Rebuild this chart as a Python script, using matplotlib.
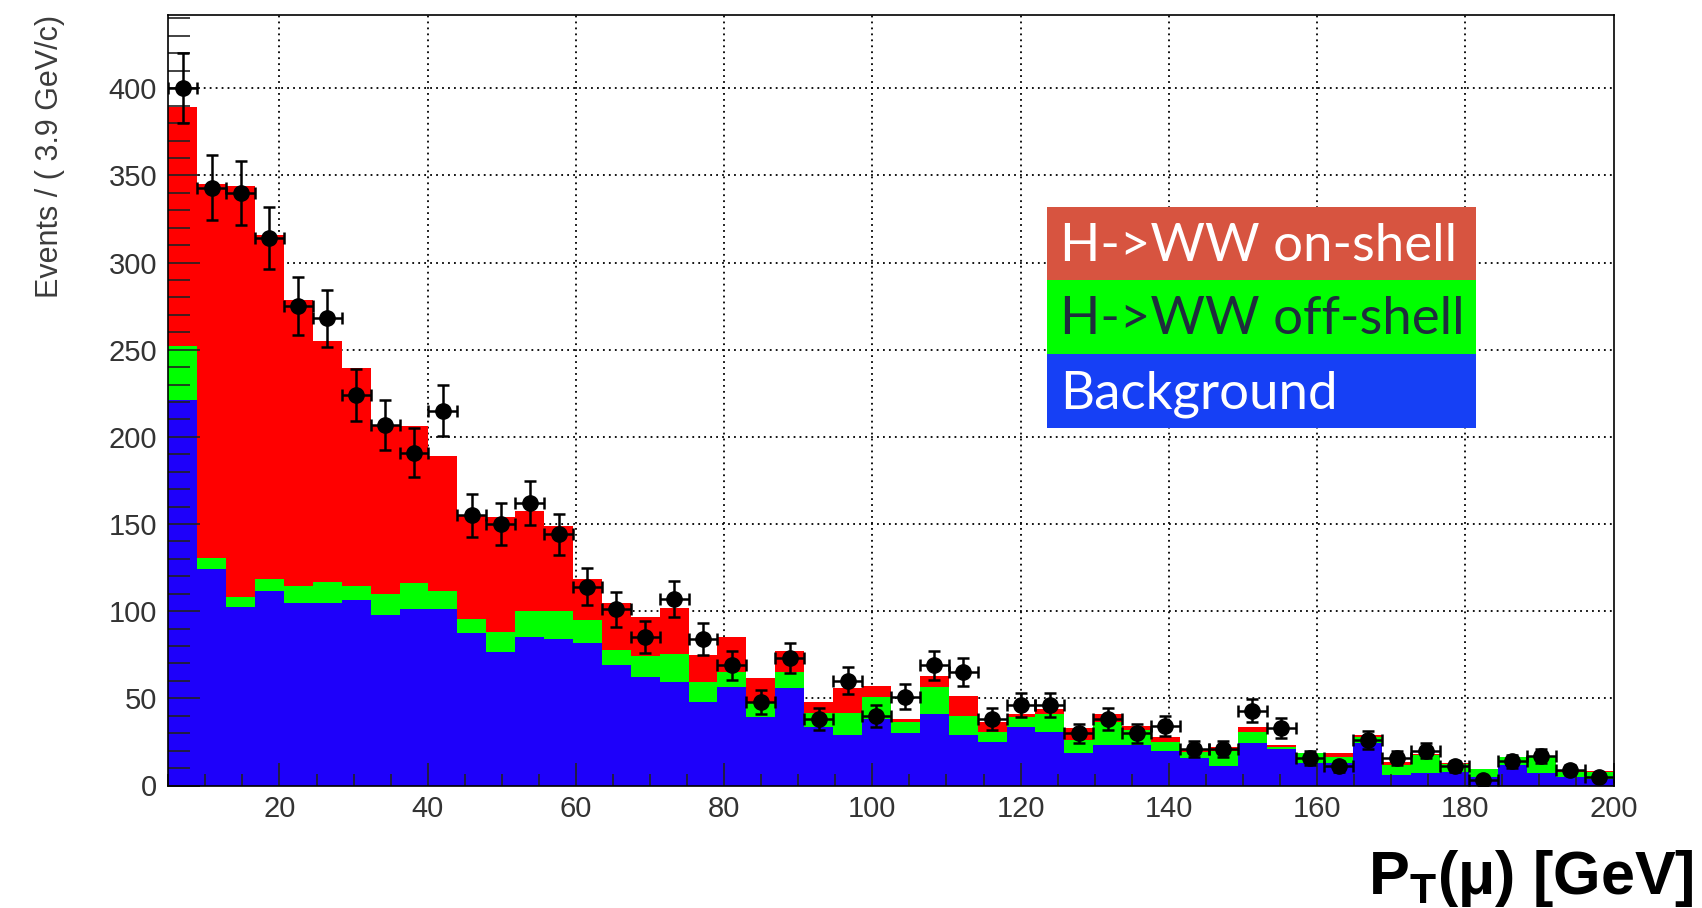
import numpy as np
import matplotlib
matplotlib.use('Agg')
import matplotlib.pyplot as plt
from matplotlib.patches import Rectangle
from matplotlib.ticker import MultipleLocator

plt.rcParams['font.family'] = ['Liberation Sans', 'DejaVu Sans']
plt.rcParams['mathtext.fontset'] = 'custom'
plt.rcParams['mathtext.rm'] = 'Liberation Sans:bold'
plt.rcParams['mathtext.bf'] = 'Liberation Sans:bold'
plt.rcParams['mathtext.it'] = 'Liberation Sans:bold'

# pT(mu) binning: 50 bins of 3.9 GeV
x_lo, x_hi, n_bins = 5.0, 200.0, 50

# stacked MC components, events per bin
bkg = np.array([221, 124, 102.6, 111.8, 104.5, 104.5, 106.4, 97.8, 101.3, 101.3,
                87.3, 76.8, 85.4, 84, 82, 69, 62.4, 59.6, 48.1, 56.7,
                39.5, 55.7, 33.8, 29, 38, 29.9, 41, 29, 25.1, 33.8,
                30.9, 18.5, 23.2, 23.2, 19.8, 15.6, 11.4, 24.6, 20.7, 12.7,
                12.7, 24.2, 6, 7, 7.9, 5, 11.8, 7, 5, 3.5])
offshell = np.array([31, 6.5, 5.7, 6.7, 10.1, 12.1, 8.1, 11.9, 14.7, 10.5,
                     8, 11.1, 14.9, 16.3, 13, 8.7, 11.9, 15.7, 11.5, 8.6,
                     7.6, 9.6, 7.6, 12.4, 12.6, 6.3, 15.7, 10.9, 5.8, 5.3,
                     10.1, 7.6, 13.4, 8.8, 5.3, 3.8, 8.6, 6.3, 1.3, 5.8,
                     3.8, 3.6, 5.8, 10.5, 4.4, 4.3, 4.4, 9.2, 2.5, 4.4])
onshell = np.array([137, 214.7, 235.7, 197.5, 163.9, 138.4, 124.8, 96.3, 90, 77.2,
                    59.9, 66.1, 57.4, 48.7, 23.3, 26.8, 22.2, 26.7, 15.3, 19.7,
                    14.4, 12, 6.7, 14.3, 6.5, 1.8, 6.1, 11.4, 5.7, 1.9,
                    2.7, 6.7, 4.4, 2, 2.9, 1.1, 2.3, 2.5, 1.2, 0.3,
                    2.3, 1.2, 1.9, 0.5, 0.8, 0.2, 0.3, 0.8, 1, 0.3])

# observed events and their errors
data_counts = np.array([400, 343, 340, 314, 275, 268, 224, 207, 191, 215,
                        155, 150, 162, 144, 114, 101, 85, 107, 84, 69,
                        48, 73, 38, 60, 40, 51, 69, 65, 38, 46,
                        46, 30, 38, 30, 34, 21, 21, 43, 33, 16,
                        11, 26, 16, 20, 11, 3, 14, 17, 9, 5])
data_err = np.array([20, 18.5, 18.4, 17.7, 16.6, 16.4, 15, 14.4, 13.8, 14.7,
                     12.4, 12.2, 12.7, 12, 10.7, 10, 9.2, 10.3, 9.2, 8.3,
                     6.9, 8.5, 6.2, 7.7, 6.3, 7.1, 8.3, 8.1, 6.2, 6.8,
                     6.8, 5.5, 6.2, 5.5, 5.8, 4.6, 4.6, 6.6, 5.7, 4,
                     3.3, 5.1, 4, 4.5, 3.3, 1.7, 3.7, 4.1, 3, 2.2])

legend_labels = ['H->WW on-shell', 'H->WW off-shell', 'Background']
legend_colors = ['#d75440', '#00ff00', '#1640f5']
legend_text_colors = ['white', '#1f2d3d', 'white']

W, H = 1702, 908


def fx(px):
    return px / W


def fy(py):
    return 1 - py / H


fig = plt.figure(figsize=(W / 100, H / 100), dpi=100)
ax = fig.add_axes([fx(168.3), fy(785.5), (1613.5 - 168.3) / W, (785.5 - 15) / H])

edges = np.linspace(x_lo, x_hi, n_bins + 1)
centers = 0.5 * (edges[:-1] + edges[1:])

top_green = bkg + offshell
top_total = top_green + onshell
ax.stairs(top_total, edges, fill=True, color='#ff0000', lw=0, zorder=1)
ax.stairs(top_green, edges, fill=True, color='#00ff00', lw=0, zorder=1.1)
ax.stairs(bkg, edges, fill=True, color='#1e00fa', lw=0, zorder=1.2)

ax.errorbar(centers, data_counts, xerr=np.diff(edges) / 2, yerr=data_err,
            fmt='o', color='black', ms=11, elinewidth=1.8, capsize=4.5,
            capthick=1.8, zorder=5)

ax.set_xlim(x_lo, x_hi)
ax.set_ylim(0, 442)
ax.xaxis.set_major_locator(MultipleLocator(20))
ax.xaxis.set_minor_locator(MultipleLocator(5))
ax.yaxis.set_major_locator(MultipleLocator(50))
ax.yaxis.set_minor_locator(MultipleLocator(10))

# dotted grid kept under the filled histograms
for xv in ax.get_xticks():
    if x_lo < xv < x_hi:
        ax.axvline(xv, color='black', ls=(0, (1, 2.3)), lw=1.3, zorder=0.5)
for yv in ax.get_yticks():
    if 0 < yv < 442:
        ax.axhline(yv, color='black', ls=(0, (1, 2.3)), lw=1.3, zorder=0.5)

ax.tick_params(axis='both', which='both', direction='in', top=False, right=False,
               labelsize=21, labelcolor='#333333', color='#222222', width=1.2)
ax.tick_params(axis='x', which='major', length=16.5, pad=7)
ax.tick_params(axis='x', which='minor', length=9)
ax.tick_params(axis='y', which='major', length=23, pad=8)
ax.tick_params(axis='y', which='minor', length=16)
for sp in ax.spines.values():
    sp.set_linewidth(1.2)
    sp.set_zorder(6)

fig.text(fx(50), fy(15), 'Events / ( 3.9 GeV/c)', rotation=90, ha='center',
         va='top', fontsize=22, color='#3c3c3c')

fig.text(fx(1694), fy(894), r'P$_{\mathrm{T}}$(μ) [GeV]', ha='right',
         va='baseline', fontsize=44, fontweight='bold', color='black')

# legend boxes
box_left, box_right, box_top, row_h = 1046.7, 1476.0, 206.7, 73.8
for i, (lab, col, tcol) in enumerate(zip(legend_labels, legend_colors, legend_text_colors)):
    top = box_top + i * row_h
    fig.add_artist(Rectangle((fx(box_left), fy(top + row_h)), (box_right - box_left) / W,
                             row_h / H, transform=fig.transFigure, facecolor=col,
                             edgecolor='none', zorder=10))
    fig.text(fx(1060), fy(top + 54), lab, ha='left', va='baseline', fontsize=38,
             family=['Lato', 'DejaVu Sans'], color=tcol, zorder=11)

fig.savefig('out.png', dpi=100)
